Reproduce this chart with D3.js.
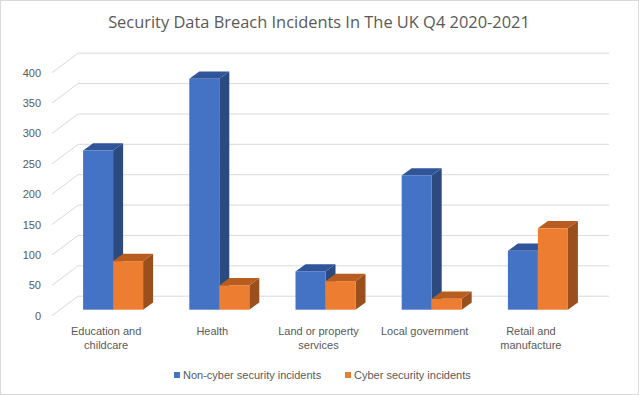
<!DOCTYPE html>
<html><head><meta charset="utf-8">
<script src="https://cdn.jsdelivr.net/npm/d3@7"></script>
<style>body{margin:0;background:#fff}svg{display:block}</style>
</head><body>
<svg id="c" width="639" height="395"></svg>
<script>
const title = "Security Data Breach Incidents In The UK Q4 2020-2021";
const categories = ["Education and childcare", "Health", "Land or property services", "Local government", "Retail and manufacture"];
const seriesNames = ["Non-cyber security incidents", "Cyber security incidents"];
const nonCyber = [262, 380, 63, 221, 97];
const cyber = [80, 40, 47, 18, 134];
const yTicks = [0, 50, 100, 150, 200, 250, 300, 350, 400];

const svg = d3.select("#c");
const W = 639, H = 395;
const textColor = "#595959", gridColor = "#D9D9D9";
const frontColors = ["#4472C4", "#ED7D31"];
const topColors = ["#31559A", "#B85C1F"];
const sideColors = ["#2A4A80", "#9A4F1D"];

svg.append("rect").attr("x",0.5).attr("y",0.5).attr("width",W-1).attr("height",H-1)
  .attr("fill","#fff").attr("stroke","#D9D9D9");

// front-plane scales
const y = d3.scaleLinear().domain([0,400]).range([315.7, 72.7]);
const x0 = d3.scaleBand().domain(categories).range([52,583]).paddingInner(0.435).paddingOuter(0.2175);
const x1 = d3.scaleBand().domain(seriesNames).range([0, x0.bandwidth()]);
const wall = {dx:26, dy:-19.5};   // back wall offset
const face = {dx:8, dy:-6};       // bar front face offset
const depth = {dx:10, dy:-7.3};   // bar depth

// gridlines
const g = svg.append("g");
yTicks.forEach(t => {
  const yy = y(t);
  g.append("path").attr("d", `M52,${yy}L${52+wall.dx},${yy+wall.dy}L609,${yy+wall.dy}`)
    .attr("fill","none").attr("stroke",gridColor).attr("stroke-width",1);
});

// y labels
const yAxis = d3.axisLeft(y).tickValues(yTicks).tickSize(0).tickPadding(0);
const ya = svg.append("g").attr("transform","translate(41,0)").call(yAxis);
ya.select(".domain").remove();
ya.selectAll("text").attr("fill",textColor).attr("font-family","Liberation Sans, Arial, sans-serif").attr("font-size","11px");

// bars
const series = [nonCyber, cyber];
categories.forEach((c,i) => {
  series.forEach((vals,s) => {
    const v = vals[i];
    const xl = x0(c) + x1(seriesNames[s]) + face.dx;
    const xr = xl + x1.bandwidth();
    const yb = y(0) + face.dy;
    const yt = y(v) + face.dy;
    const bg = svg.append("g");
    // side
    bg.append("path").attr("d",`M${xr},${yt}L${xr+depth.dx},${yt+depth.dy}L${xr+depth.dx},${yb+depth.dy}L${xr},${yb}Z`).attr("fill",sideColors[s]);
    // top
    bg.append("path").attr("d",`M${xl},${yt}L${xl+depth.dx},${yt+depth.dy}L${xr+depth.dx},${yt+depth.dy}L${xr},${yt}Z`).attr("fill",topColors[s]);
    // front
    bg.append("rect").attr("x",xl).attr("y",yt).attr("width",xr-xl).attr("height",yb-yt).attr("fill",frontColors[s]);
  });
});

// category labels
const xa = svg.append("g").attr("font-family","Liberation Sans, Arial, sans-serif").attr("font-size","11px").attr("fill",textColor);
categories.forEach(c => {
  const t = xa.append("text").attr("text-anchor","middle").attr("x", x0(c)+x0.bandwidth()/2+1).attr("y", 335);
  const words = c.split(" ");
  let line = [], lines = [];
  const probe = xa.append("text").attr("visibility","hidden");
  words.forEach(w => {
    const test = line.concat([w]).join(" ");
    probe.text(test);
    if (probe.node().getComputedTextLength() > 92 && line.length) { lines.push(line.join(" ")); line = [w]; }
    else line.push(w);
  });
  lines.push(line.join(" "));
  probe.remove();
  lines.forEach((l,k) => t.append("tspan").attr("x", x0(c)+x0.bandwidth()/2+1).attr("dy", k===0?0:14).text(l));
});

// title
const tt = svg.append("text").attr("x", 319).attr("y", 28).attr("text-anchor","middle")
  .attr("font-family","Open Sans, sans-serif").attr("font-size","18px").attr("fill",textColor).text(title);
const tw = tt.node().getComputedTextLength();
tt.attr("font-size", (18*422/tw).toFixed(2)+"px");

// legend
const legX = [174, 345];
seriesNames.forEach((n,s) => {
  svg.append("rect").attr("x",legX[s]).attr("y",372).attr("width",6).attr("height",6).attr("fill",frontColors[s]);
  svg.append("text").attr("x",legX[s]+9).attr("y",379).attr("font-family","Liberation Sans, Arial, sans-serif")
    .attr("font-size","11px").attr("fill",textColor).text(n);
});
</script>
</body></html>
